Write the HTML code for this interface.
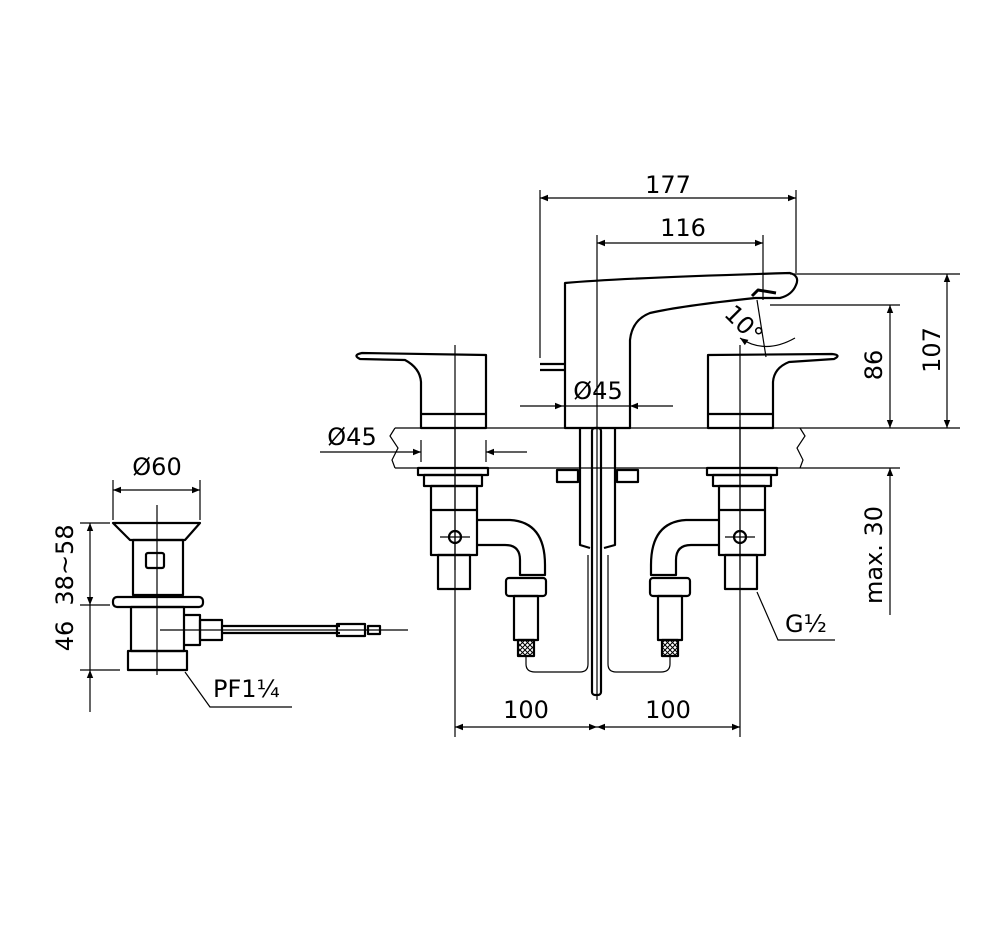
<!DOCTYPE html>
<html><head><style>
html,body{margin:0;padding:0;background:#fff}
svg{display:block}
text{font-family:"DejaVu Sans","Liberation Sans",sans-serif;fill:#000}
</style></head><body>
<svg width="1000" height="938" viewBox="0 0 1000 938" xmlns="http://www.w3.org/2000/svg">
<defs>
<marker id="a" viewBox="0 0 10 10" refX="10" refY="5" markerWidth="14" markerHeight="8" orient="auto-start-reverse" markerUnits="userSpaceOnUse"><path d="M0,1 L10,5 L0,9 z" fill="#000"/></marker>
<pattern id="br" width="5" height="5" patternUnits="userSpaceOnUse"><path d="M0,0 L5,5 M5,0 L0,5" stroke="#000" stroke-width="1"/></pattern>
</defs>
<g fill="none" stroke="#000" stroke-width="1.2">
<!-- dimension lines top -->
<line x1="540" y1="190" x2="540" y2="358"/>
<line x1="796" y1="190" x2="796" y2="273"/>
<line x1="540" y1="198" x2="796" y2="198" marker-start="url(#a)" marker-end="url(#a)"/>
<line x1="597" y1="235" x2="597" y2="700"/>
<line x1="763" y1="235" x2="763" y2="300"/>
<line x1="597" y1="243" x2="763" y2="243" marker-start="url(#a)" marker-end="url(#a)"/>
<!-- right verticals -->
<line x1="790" y1="274" x2="960" y2="274"/>
<line x1="770" y1="305" x2="900" y2="305"/>
<line x1="947" y1="274" x2="947" y2="428" marker-start="url(#a)" marker-end="url(#a)"/>
<line x1="890" y1="305" x2="890" y2="428" marker-start="url(#a)" marker-end="url(#a)"/>
<line x1="805" y1="428" x2="960" y2="428"/>
<line x1="805" y1="468" x2="900" y2="468"/>
<line x1="890" y1="468" x2="890" y2="615" marker-start="url(#a)"/>
<!-- counter -->
<path d="M395,428 L805,428 M395,468 L805,468"/>
<path d="M395,428 L390,436 L398,448 L392,460 L395,468"/>
<path d="M800,428 L805,436 L797,448 L803,460 L800,468"/>
<!-- Ø45 spout -->
<line x1="520" y1="406" x2="563" y2="406" marker-end="url(#a)"/>
<line x1="673" y1="406" x2="630" y2="406" marker-end="url(#a)"/>
<line x1="563" y1="406" x2="630" y2="406"/>
<!-- Ø45 left -->
<line x1="320" y1="452" x2="421" y2="452" marker-end="url(#a)"/>
<line x1="527" y1="452" x2="486" y2="452" marker-end="url(#a)"/>
<line x1="421" y1="440" x2="421" y2="462"/><line x1="486" y1="440" x2="486" y2="462"/>
<!-- 100 dims -->
<line x1="455" y1="420" x2="455" y2="737"/>
<line x1="740" y1="420" x2="740" y2="737"/>
<line x1="455" y1="727" x2="597" y2="727" marker-start="url(#a)" marker-end="url(#a)"/>
<line x1="597" y1="727" x2="740" y2="727" marker-start="url(#a)" marker-end="url(#a)"/>
<!-- leaders -->
<path d="M757,592 L778,640 L835,640"/>
<path d="M185,672 L210,707 L292,707"/>
<!-- 10° arc -->
<path d="M740,338 Q765,355 795,338" marker-start="url(#a)"/>
<line x1="757" y1="300" x2="766" y2="357"/>
</g>
<g fill="none" stroke="#000" stroke-width="2.2" stroke-linejoin="round">
<!-- spout -->
<path d="M565,428 L565,283 Q620,278 790,273 Q800,276 796,285 Q792,295 780,298 L755,298 Q680,306 650,313 Q632,320 630,340 L630,428 Z"/>
<path d="M752,296 L758,290 L776,293" stroke-width="3"/>
<path d="M540,364 L565,364 M540,370 L565,370"/>
<!-- left handle -->
<path d="M421,428 L421,382 Q420,368 405,360 L360,359 Q352,355 362,353 L486,355 L486,428 Z"/>
<line x1="421" y1="414" x2="486" y2="414"/>
<!-- right handle -->
<path d="M773,428 L773,382 Q774,368 789,362 L834,359 Q842,355 832,354 L708,355 L708,428 Z"/>
<line x1="708" y1="414" x2="773" y2="414"/>
<!-- left under -->
<rect x="418" y="468" width="70" height="7"/>
<rect x="424" y="475" width="58" height="11"/>
<rect x="431" y="486" width="46" height="24"/>
<path d="M431,510 L431,555 L477,555 L477,510"/>
<rect x="438" y="555" width="32" height="34"/>
<path d="M477,520 L510,520 Q545,522 545,565 L545,575 L520,575 L520,560 Q520,545 505,545 L477,545"/>
<rect x="506" y="578" width="40" height="18" rx="3"/>
<rect x="514" y="596" width="24" height="44"/>
<rect x="518" y="640" width="16" height="16" fill="url(#br)"/>
<path d="M526,657 L526,664 Q526,672 535,672 L580,672 Q588,672 588,664 L588,555" stroke-width="1.2"/>
<!-- right under -->
<rect x="707" y="468" width="70" height="7"/>
<rect x="713" y="475" width="58" height="11"/>
<rect x="719" y="486" width="46" height="24"/>
<path d="M765,510 L765,555 L719,555 L719,510"/>
<rect x="725" y="555" width="32" height="34"/>
<path d="M719,520 L686,520 Q651,522 651,565 L651,575 L676,575 L676,560 Q676,545 691,545 L719,545"/>
<rect x="650" y="578" width="40" height="18" rx="3"/>
<rect x="658" y="596" width="24" height="44"/>
<rect x="662" y="640" width="16" height="16" fill="url(#br)"/>
<path d="M670,657 L670,664 Q670,672 661,672 L616,672 Q608,672 608,664 L608,555" stroke-width="1.2"/>
<!-- center shank -->
<path d="M580,428 L580,545 L590,548 M604,548 L615,545 L615,428"/>
<rect x="557" y="470" width="21" height="12"/>
<rect x="617" y="470" width="21" height="12"/>
<rect x="592" y="428" width="9" height="267" rx="3"/>
<circle cx="455" cy="537" r="6"/>
<circle cx="740" cy="537" r="6"/>
<!-- drain -->
<path d="M113,523 L200,523 L185,540 L130,540 Z"/>
<rect x="133" y="540" width="50" height="55"/>
<rect x="146" y="553" width="18" height="15" rx="2"/>
<rect x="113" y="597" width="90" height="10" rx="4"/>
<rect x="131" y="607" width="53" height="44"/>
<rect x="128" y="651" width="59" height="19"/>
<path d="M184,615 L200,615 L200,645 L184,645"/>
<rect x="200" y="620" width="22" height="20"/>
<path d="M222,626 L340,626 M222,633 L340,633"/>
<rect x="337" y="624" width="28" height="12"/>
<rect x="368" y="626" width="12" height="8"/>
</g>
<g stroke="#000" stroke-width="1.2" fill="none">
<line x1="157" y1="505" x2="157" y2="675"/>
<line x1="113" y1="480" x2="113" y2="520"/><line x1="200" y1="480" x2="200" y2="520"/>
<line x1="113" y1="490" x2="200" y2="490" marker-start="url(#a)" marker-end="url(#a)"/>
<line x1="80" y1="523" x2="110" y2="523"/><line x1="80" y1="605" x2="110" y2="605"/><line x1="80" y1="670" x2="120" y2="670"/>
<line x1="90" y1="523" x2="90" y2="605" marker-start="url(#a)" marker-end="url(#a)"/>
<line x1="90" y1="605" x2="90" y2="670"/>
<line x1="90" y1="690" x2="90" y2="712"/>
<line x1="90" y1="670" x2="90" y2="690" marker-start="url(#a)"/>
<line x1="160" y1="630" x2="408" y2="630"/>
<line x1="455" y1="345" x2="455" y2="570"/><line x1="740" y1="345" x2="740" y2="570"/>
<line x1="440" y1="537" x2="470" y2="537"/><line x1="725" y1="537" x2="755" y2="537"/>
</g>
<g font-size="24">
<text x="668" y="193" text-anchor="middle">177</text>
<text x="683" y="236" text-anchor="middle">116</text>
<text x="598" y="399" text-anchor="middle">Ø45</text>
<text x="352" y="445" text-anchor="middle">Ø45</text>
<text x="157" y="475" text-anchor="middle">Ø60</text>
<text x="526" y="718" text-anchor="middle">100</text>
<text x="668" y="718" text-anchor="middle">100</text>
<text x="785" y="632">G½</text>
<text x="213" y="697">PF1¼</text>
<text transform="translate(940,350) rotate(-90)" text-anchor="middle">107</text>
<text transform="translate(882,365) rotate(-90)" text-anchor="middle">86</text>
<text transform="translate(882,555) rotate(-90)" text-anchor="middle">max. 30</text>
<text transform="translate(73,565) rotate(-90)" text-anchor="middle">38~58</text>
<text transform="translate(73,636) rotate(-90)" text-anchor="middle">46</text>
<text transform="translate(738,330) rotate(45)" text-anchor="middle">10°</text>
</g>
</svg>
</body></html>
